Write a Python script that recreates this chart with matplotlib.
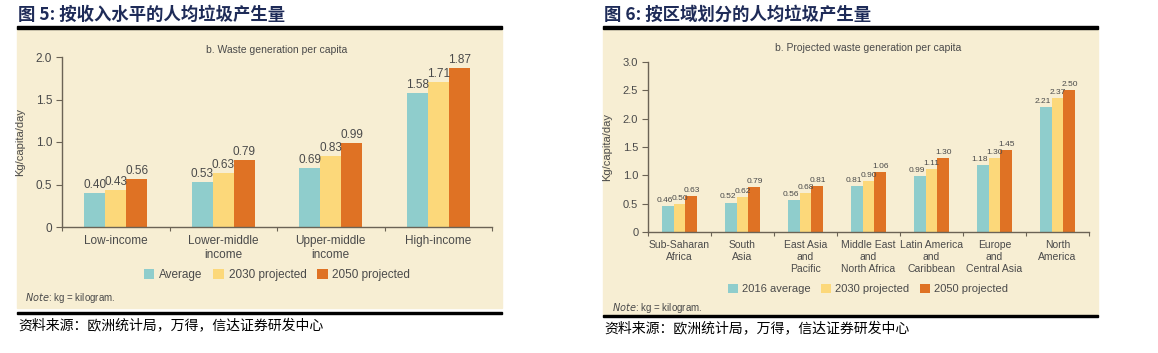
import matplotlib
matplotlib.use("Agg")
import matplotlib.pyplot as plt
from matplotlib.patches import Rectangle, Patch
import numpy as np

plt.rcParams['font.family'] = ['Liberation Sans', 'DejaVu Sans']

# ---- data ----
income_cats = ["Low-income", "Lower-middle\nincome", "Upper-middle\nincome", "High-income"]
income_avg = [0.40, 0.53, 0.69, 1.58]
income_2030 = [0.43, 0.63, 0.83, 1.71]
income_2050 = [0.56, 0.79, 0.99, 1.87]

region_cats = ["Sub-Saharan\nAfrica", "South\nAsia", "East Asia\nand\nPacific",
               "Middle East\nand\nNorth Africa", "Latin America\nand\nCaribbean",
               "Europe\nand\nCentral Asia", "North\nAmerica"]
region_2016 = [0.46, 0.52, 0.56, 0.81, 0.99, 1.18, 2.21]
region_2030 = [0.50, 0.62, 0.68, 0.90, 1.11, 1.30, 2.37]
region_2050 = [0.63, 0.79, 0.81, 1.06, 1.30, 1.45, 2.50]

left_labels = ["Average", "2030 projected", "2050 projected"]
right_labels = ["2016 average", "2030 projected", "2050 projected"]

C_TEAL = "#8fcdcc"
C_YEL = "#fcd87a"
C_ORG = "#df7224"
C_BG = "#f7eed3"
C_AX = "#6b6355"
C_TXT = "#4a4a4a"
C_TITLE = "#1e2b58"

W, H = 1158, 353
fig = plt.figure(figsize=(W / 100, H / 100), dpi=100)

def fx(px):
    return px / W

def fy(py):
    return 1 - py / H

def rect(x0, y0, x1, y1, color, z=0):
    fig.patches.append(Rectangle((fx(x0), fy(y1)), fx(x1) - fx(x0), fy(y0) - fy(y1),
                                 transform=fig.transFigure, color=color, zorder=z))

# backgrounds and rules
rect(17, 28, 502, 308, C_BG, -5)
rect(17, 26, 502, 28.5, "black", -4)
rect(17, 311.5, 502, 314, "black", -4)
rect(603, 28, 1098, 315, C_BG, -5)
rect(603, 26, 1098, 28.5, "black", -4)
rect(603, 314.5, 1098, 317, "black", -4)

cjk_bold = dict(family=['Noto Sans CJK SC', 'DejaVu Sans'], fontweight='bold',
                color=C_TITLE, fontsize=12.5, va='center', ha='left')
fig.text(fx(18), fy(15), "图 5: 按收入水平的人均垃圾产生量", **cjk_bold)
fig.text(fx(604), fy(15), "图 6: 按区域划分的人均垃圾产生量", **cjk_bold)
src = dict(family=['Noto Sans CJK SC', 'DejaVu Sans'], color="black",
           fontsize=10, va='center', ha='left', style='italic')
fig.text(fx(18), fy(325), "资料来源：欧洲统计局，万得，信达证券研发中心", **src)
fig.text(fx(604), fy(328), "资料来源：欧洲统计局，万得，信达证券研发中心", **src)


def panel(x0, x1, ytop, ybot, ymax, yticks, ylabels, cats, series, colors, width,
          lab_fs, cat_fs, tick_fs, title, title_y, leg_labels, leg_y, leg_fs, note_xy,
          first_right=False):
    ax = fig.add_axes([fx(x0), fy(ybot), fx(x1) - fx(x0), fy(ytop) - fy(ybot)])
    ax.set_zorder(5)
    ax.set_facecolor("none")
    n = len(cats)
    x = np.arange(n)
    for i, (vals, col) in enumerate(zip(series, colors)):
        pos = x + (i - 1) * width
        ax.bar(pos, vals, width=width, color=col, edgecolor='none', zorder=2)
        for p, v in zip(pos, vals):
            if first_right and i == 0:
                tx, ha = p + width * 0.45, 'right'
            else:
                tx, ha = p, 'center'
            ax.text(tx, v + ymax * 0.012, f"{v:.2f}", ha=ha, va='bottom',
                    fontsize=lab_fs, color=C_TXT, clip_on=False)
    ax.set_xlim(-0.5, n - 0.5)
    ax.set_ylim(0, ymax)
    for s in ['top', 'right']:
        ax.spines[s].set_visible(False)
    for s in ['left', 'bottom']:
        ax.spines[s].set_color(C_AX)
        ax.spines[s].set_linewidth(1.0)
    ax.set_yticks(yticks)
    ax.set_yticklabels(ylabels, fontsize=tick_fs, color=C_TXT)
    ax.tick_params(axis='y', length=4, color=C_AX, pad=3)
    ax.set_xticks(np.arange(n + 1) - 0.5, minor=False)
    ax.set_xticklabels([""] * (n + 1))
    ax.tick_params(axis='x', length=3, color=C_AX)
    for i, c in enumerate(cats):
        ax.text(i, -ymax * 0.045, c, ha='center', va='top', fontsize=cat_fs,
                color=C_TXT, linespacing=1.25)
    ax.set_ylabel("Kg/capita/day", fontsize=8, color=C_TXT, labelpad=8)
    fig.text(fx(title_y[0]), fy(title_y[1]), title, ha='center', va='center',
             fontsize=7.5, color=C_TXT)
    handles = [Patch(facecolor=c, edgecolor='none') for c in colors]
    fig.legend(handles, leg_labels, loc='center', bbox_to_anchor=(fx(leg_y[0]), fy(leg_y[1])),
               ncol=3, frameon=False, fontsize=leg_fs, handlelength=0.9, handleheight=0.9,
               handletextpad=0.4, columnspacing=0.9, labelcolor=C_TXT)
    fig.text(fx(note_xy[0]), fy(note_xy[1]), r"$\it{Note}$: kg = kilogram.",
             ha='left', va='center', fontsize=7, color=C_TXT)
    return ax


panel(62, 492, 57, 227, 2.0, [0, 0.5, 1.0, 1.5, 2.0], ["0", "0.5", "1.0", "1.5", "2.0"],
      income_cats, [income_avg, income_2030, income_2050], [C_TEAL, C_YEL, C_ORG], 0.195,
      8.5, 8.5, 8.5, "b. Waste generation per capita", (277, 50), left_labels, (277, 275),
      8.5, (25, 298))

panel(648, 1089, 62, 232, 3.0, [0, 0.5, 1.0, 1.5, 2.0, 2.5, 3.0],
      ["0", "0.5", "1.0", "1.5", "2.0", "2.5", "3.0"],
      region_cats, [region_2016, region_2030, region_2050], [C_TEAL, C_YEL, C_ORG], 0.19,
      6.0, 7.5, 8, "b. Projected waste generation per capita", (868, 48), right_labels,
      (868, 289), 8, (612, 308), first_right=True)

fig.savefig("out.png", dpi=100)
